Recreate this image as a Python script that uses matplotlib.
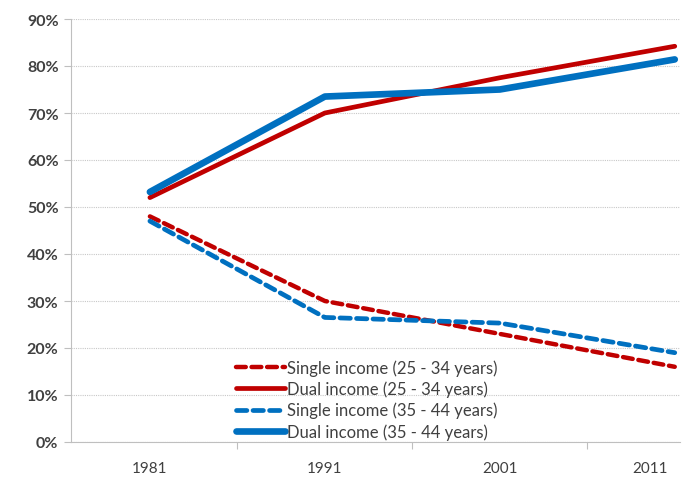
import matplotlib
matplotlib.use("Agg")
import matplotlib.pyplot as plt
from matplotlib.ticker import FixedLocator

plt.rcParams['font.family'] = ['Lato', 'DejaVu Sans']

years = ["1981", "1991", "2001", "2011"]
single_25_34 = [0.48, 0.30, 0.23, 0.16]
dual_25_34 = [0.52, 0.70, 0.775, 0.842]
single_35_44 = [0.47, 0.265, 0.253, 0.19]
dual_35_44 = [0.532, 0.735, 0.75, 0.814]
labels = ["Single income (25 - 34 years)", "Dual income (25 - 34 years)",
          "Single income (35 - 44 years)", "Dual income (35 - 44 years)"]

red = "#C00000"
blue = "#0070C0"

fig = plt.figure(figsize=(6.85, 4.85), dpi=100)
ax = fig.add_axes([71/685, 1-443/485, (680-71)/685, (443-20)/485])

x = list(range(len(years)))
ax.plot(x, single_25_34, color=red, lw=3.2, ls=(0, (2.2, 1.3)), label=labels[0], dash_capstyle='round')
ax.plot(x, dual_25_34, color=red, lw=3.4, label=labels[1], solid_capstyle='round')
ax.plot(x, single_35_44, color=blue, lw=3.4, ls=(0, (2.2, 1.3)), label=labels[2], dash_capstyle='round')
ax.plot(x, dual_35_44, color=blue, lw=4.8, label=labels[3], solid_capstyle='round')

ax.set_xlim(-0.451, 3.03)
ax.set_ylim(0, 0.9)
yt = [i/10 for i in range(10)]
ax.set_yticks(yt)
ax.set_yticklabels([f"{int(round(v*100))}%" for v in yt], fontweight='bold')
ax.yaxis.grid(True, color="#C8C8C8", ls=(0, (1, 1)), lw=0.8)
ax.set_axisbelow(True)

# category labels (last one shifted as in the reference)
ax.set_xticks([0, 1, 2, 2.857])
ax.set_xticklabels(years)
ax.tick_params(axis='x', which='major', length=0, pad=14, labelsize=11, labelcolor="#404040")
ax.xaxis.set_minor_locator(FixedLocator([0.5, 1.5, 2.5]))
ax.tick_params(axis='x', which='minor', length=5, width=0.8, color="#BFBFBF", direction='out')
ax.tick_params(axis='y', length=5, width=0.8, color="#BFBFBF", labelsize=11.5, labelcolor="#404040", pad=4)

for s in ['top', 'right']:
    ax.spines[s].set_visible(False)
ax.spines['left'].set_color("#BFBFBF")
ax.spines['bottom'].set_color("#BFBFBF")
ax.spines['left'].set_linewidth(0.8)
ax.spines['bottom'].set_linewidth(0.8)

leg = ax.legend(loc='lower left', bbox_to_anchor=(0.255, -0.018), frameon=False,
                fontsize=12, handlelength=2.9, handletextpad=0.15, labelspacing=0.28,
                borderaxespad=0.2)
for t in leg.get_texts():
    t.set_color("#404040")

fig.savefig("out.png", dpi=100)
